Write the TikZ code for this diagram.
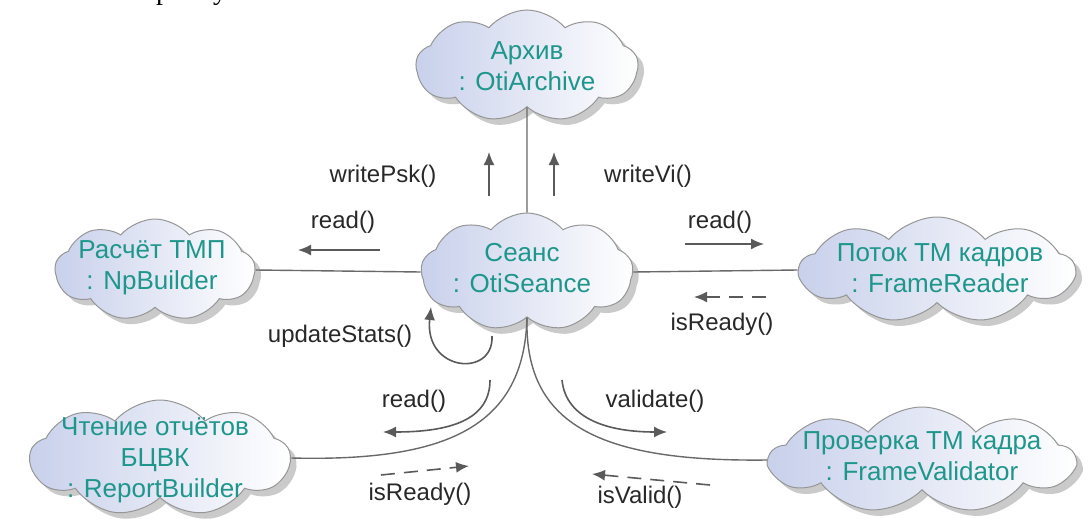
\documentclass[tikz,border=0pt]{standalone}
\usepackage{fontspec}
\setmainfont{Liberation Sans}
\newfontfamily\serifface{Liberation Serif}
\usetikzlibrary{shapes.symbols,shadows,arrows.meta}

\definecolor{cloudtxt}{RGB}{30,150,140}
\definecolor{cloudedge}{RGB}{150,150,150}
\definecolor{cloudfill}{RGB}{200,208,235}
\definecolor{wire}{RGB}{105,105,105}
\definecolor{msg}{RGB}{90,90,90}
\definecolor{labeltxt}{RGB}{40,40,40}

\tikzset{
  cloudbox/.style={cloud, cloud puffs=9, cloud puff arc=100, cloud ignores aspect,
    draw=cloudedge, line width=1pt, left color=cloudfill, right color=white,
    inner sep=0pt,
    drop shadow={shadow xshift=6pt, shadow yshift=-6pt, fill=black!35, opacity=0.6}},
  cloudtext/.style={text=cloudtxt, font=\fontsize{26}{31}\selectfont, align=center},
  wireline/.style={draw=wire, line width=1.4pt},
  msgarrow/.style={draw=msg, line width=1.6pt, -{Latex[length=13pt,width=11pt]}},
  retarrow/.style={msgarrow, dash pattern=on 14pt off 9pt},
  msglabel/.style={text=labeltxt, font=\fontsize{24}{28}\selectfont},
  fragtext/.style={font=\serifface\fontsize{28}{32}\selectfont, anchor=base},
}

\begin{document}
\begin{tikzpicture}[x=1pt,y=-1pt]
\useasboundingbox (0,0) rectangle (1092,519);

% tail of the text line above the figure
\begin{scope}
  \clip (0,0) rectangle (1092,12);
  \node[fragtext] (frag1) at (163,0) {р};
  \node[fragtext] (frag2) at (220,0) {у};
\end{scope}

% objects
\node[cloudbox, minimum width=222pt, minimum height=112pt] (arch) at (527,66) {};
\node[cloudtext] (archT) at (arch.center) {Архив\\: OtiArchive};

\node[cloudbox, minimum width=212pt, minimum height=118pt] (sean) at (527,272) {};
\node[cloudtext] (seanT) at (522,268) {Сеанс\\: OtiSeance};

\node[cloudbox, minimum width=200pt, minimum height=102pt] (np) at (155,270) {};
\node[cloudtext] (npT) at (152,268) {Расчёт ТМП\\: NpBuilder};

\node[cloudbox, minimum width=275pt, minimum height=106pt] (fr) at (937,270) {};
\node[cloudtext] (frT) at (940,268) {Поток ТМ кадров\\: FrameReader};

\node[cloudbox, minimum width=260pt, minimum height=116pt] (rb) at (160,458) {};
\node[cloudtext] (rbT) at (155,460) {Чтение отчётов\\БЦВК\\: ReportBuilder};

\node[cloudbox, minimum width=305pt, minimum height=106pt] (fv) at (922,460) {};
\node[cloudtext] (fvT) at (922,456) {Проверка ТМ кадра\\: FrameValidator};

% links
\draw[wireline] (arch.south) -- (sean.north);
\draw[wireline] (np.east) -- (sean.west);
\draw[wireline] (sean.east) -- (fr.west);
\draw[wireline] (sean.south) .. controls (524,425) and (450,462) .. (rb.east);
\draw[wireline] (sean.south) .. controls (524,425) and (600,462) .. (fv.west);

% messages
\coordinate (wpA) at (489,196); \coordinate (wpB) at (489,152);
\draw[msgarrow] (wpA) -- (wpB);
\node[msglabel] (wpL) at (383,176) {writePsk()};

\coordinate (wvA) at (554,196); \coordinate (wvB) at (554,152);
\draw[msgarrow] (wvA) -- (wvB);
\node[msglabel] (wvL) at (648,176) {writeVi()};

\coordinate (rlA) at (380,250); \coordinate (rlB) at (298,250);
\draw[msgarrow] (rlA) -- (rlB);
\node[msglabel] (rlL) at (343,222) {read()};

\coordinate (rrA) at (685,244); \coordinate (rrB) at (764,244);
\draw[msgarrow] (rrA) -- (rrB);
\node[msglabel] (rrL) at (720,222) {read()};

\coordinate (irA) at (766,297); \coordinate (irB) at (694,297);
\draw[retarrow] (irA) -- (irB);
\node[msglabel] (irL) at (722,324) {isReady()};

\coordinate (usA) at (492,336); \coordinate (usB) at (431,307);
\draw[msgarrow] (usA) .. controls (494,378) and (424,372) .. (usB);
\node[msglabel] (usL) at (340,336) {updateStats()};

\coordinate (r2A) at (490,380); \coordinate (r2B) at (383,432);
\draw[msgarrow] (r2A) .. controls (490,420) and (450,432) .. (r2B);
\node[msglabel] (r2L) at (414,401) {read()};

\coordinate (vaA) at (562,380); \coordinate (vaB) at (667,432);
\draw[msgarrow] (vaA) .. controls (566,420) and (610,432) .. (vaB);
\node[msglabel] (vaL) at (655,401) {validate()};

\coordinate (i2A) at (381,475); \coordinate (i2B) at (469,466);
\draw[retarrow] (i2A) -- (i2B);
\node[msglabel] (i2L) at (420,494) {isReady()};

\coordinate (ivA) at (710,485); \coordinate (ivB) at (592,474);
\draw[retarrow] (ivA) -- (ivB);
\node[msglabel] (ivL) at (640,497) {isValid()};
\end{tikzpicture}
\end{document}
